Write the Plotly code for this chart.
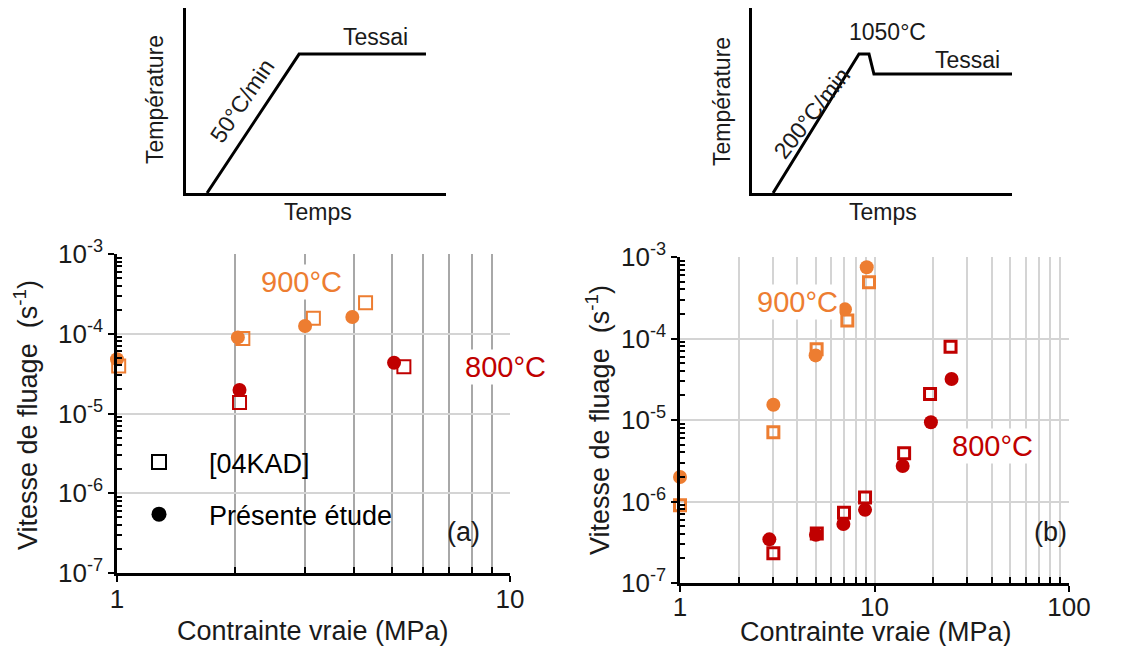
import plotly.graph_objects as go

ORANGE = "#ED7D31"
RED = "#C00000"
FONT = "Liberation Sans, Arial, sans-serif"
TXT = "#1a1a1a"

# ---------------- data (a) ----------------
a_900_kad_x = [1.01, 2.09, 3.16, 4.29]
a_900_kad_y = [3.95e-5, 8.7e-5, 1.56e-4, 2.45e-4]
a_900_etude_x = [1.0, 2.03, 3.01, 3.97]
a_900_etude_y = [4.8e-5, 9.0e-5, 1.25e-4, 1.62e-4]
a_800_kad_x = [2.05, 5.37]
a_800_kad_y = [1.37e-5, 3.86e-5]
a_800_etude_x = [2.05, 5.07]
a_800_etude_y = [1.97e-5, 4.33e-5]

# ---------------- data (b) ----------------
b_900_kad_x = [1.0, 3.02, 5.04, 7.25, 9.37]
b_900_kad_y = [9.0e-7, 7.06e-6, 7.36e-5, 1.66e-4, 4.89e-4]
b_900_etude_x = [1.0, 3.02, 4.98, 7.05, 9.12]
b_900_etude_y = [2.0e-6, 1.54e-5, 6.2e-5, 2.28e-4, 7.5e-4]
b_800_kad_x = [3.02, 5.05, 6.97, 8.94, 14.2, 19.3, 24.6]
b_800_kad_y = [2.31e-7, 4.05e-7, 7.3e-7, 1.12e-6, 3.9e-6, 2.08e-5, 7.9e-5]
b_800_etude_x = [2.88, 5.0, 6.92, 8.94, 13.96, 19.5, 24.9]
b_800_etude_y = [3.43e-7, 3.9e-7, 5.3e-7, 7.9e-7, 2.73e-6, 9.4e-6, 3.18e-5]

# ---------------- tick labels ----------------
y_tickvals = [1e-7, 1e-6, 1e-5, 1e-4, 1e-3]
y_ticktext = ["10<sup>-7</sup>", "10<sup>-6</sup>", "10<sup>-5</sup>", "10<sup>-4</sup>", "10<sup>-3</sup>"]
y_minor = [k * 10.0 ** e for e in range(-7, -3) for k in range(2, 10)]
a_x_tickvals = [1, 10]
a_x_ticktext = ["1", "10"]
a_x_minor = [2, 3, 4, 5, 6, 7, 8, 9]
b_x_tickvals = [1, 10, 100]
b_x_ticktext = ["1", "10", "100"]
b_x_minor = [k * 10 ** e for e in range(0, 2) for k in range(2, 10)]

# ---------------- schematic profiles (normalized time / temperature) ----------------
sch_a_time = [0.081, 0.435, 0.923]
sch_a_temp = [0.0, 0.751, 0.751]
sch_b_time = [0.081, 0.4115, 0.450, 0.469, 1.0]
sch_b_temp = [0.0, 0.751, 0.751, 0.643, 0.643]

W, H = 1137, 646


def px(x):
    return x / W


def py(y):
    return 1 - y / H


fig = go.Figure()


def add_series(xs, ys, color, symbol, xa, ya, size, lw):
    if symbol == "circle":
        marker = dict(symbol="circle", size=size, color=color, line=dict(width=0))
    else:
        marker = dict(symbol="square-open", size=size, color=color, line=dict(width=lw, color=color))
    fig.add_trace(go.Scatter(x=xs, y=ys, mode="markers", marker=marker,
                             xaxis=xa, yaxis=ya, showlegend=False, cliponaxis=False))


# (a)
add_series(a_900_kad_x, a_900_kad_y, ORANGE, "square", "x", "y", 13, 2)
add_series(a_800_kad_x, a_800_kad_y, RED, "square", "x", "y", 13, 2)
add_series(a_900_etude_x, a_900_etude_y, ORANGE, "circle", "x", "y", 14, 0)
add_series(a_800_etude_x, a_800_etude_y, RED, "circle", "x", "y", 14, 0)
# (b)
add_series(b_900_kad_x, b_900_kad_y, ORANGE, "square", "x2", "y2", 11, 3)
add_series(b_800_kad_x, b_800_kad_y, RED, "square", "x2", "y2", 11, 3)
add_series(b_900_etude_x, b_900_etude_y, ORANGE, "circle", "x2", "y2", 14, 0)
add_series(b_800_etude_x, b_800_etude_y, RED, "circle", "x2", "y2", 14, 0)

# legend entries
fig.add_trace(go.Scatter(x=[None], y=[None], mode="markers", name="[04KAD]",
                         marker=dict(symbol="square-open", size=14, color="black",
                                     line=dict(width=2, color="black")),
                         legendgroup="g1", xaxis="x", yaxis="y"))
fig.add_trace(go.Scatter(x=[None], y=[None], mode="markers", name="Présente étude",
                         marker=dict(symbol="circle", size=15, color="black"),
                         legendgroup="g2", xaxis="x", yaxis="y"))

# schematics
fig.add_trace(go.Scatter(x=sch_a_time, y=sch_a_temp, mode="lines",
                         line=dict(color="black", width=3), xaxis="x3", yaxis="y3",
                         showlegend=False, cliponaxis=False))
fig.add_trace(go.Scatter(x=sch_b_time, y=sch_b_temp, mode="lines",
                         line=dict(color="black", width=3), xaxis="x4", yaxis="y4",
                         showlegend=False, cliponaxis=False))

GRID_LIGHT = "#d4d4d4"
GRID_DARK = "#a8a8a8"

tickfont = dict(family=FONT, size=26, color=TXT)


def yaxis_common(domain, anchor):
    return dict(type="log", range=[-7, -3], domain=domain, anchor=anchor, automargin=False,
                tickmode="array", tickvals=y_tickvals, ticktext=y_ticktext,
                ticks="outside", ticklen=6, tickwidth=2, tickcolor="black",
                showline=True, linecolor="black", linewidth=2.5,
                showgrid=True, gridcolor=GRID_LIGHT, gridwidth=1.5,
                tickfont=tickfont, ticklabelstandoff=0,
                minor=dict(tickmode="array", tickvals=y_minor, ticks="inside",
                           ticklen=5, tickwidth=1.5, tickcolor="black", showgrid=False),
                zeroline=False)


def sch_axis(domain, anchor):
    return dict(range=[0, 1], domain=domain, anchor=anchor, automargin=False,
                showline=True, linecolor="black", linewidth=3,
                showgrid=False, zeroline=False, showticklabels=False, ticks="")


fig.update_layout(
    width=W, height=H, margin=dict(l=0, r=0, t=0, b=0, autoexpand=False),
    paper_bgcolor="white", plot_bgcolor="white",
    font=dict(family=FONT, color=TXT),
    xaxis=dict(type="log", range=[0, 1], domain=[px(117), px(510)], anchor="y", automargin=False,
               tickmode="array", tickvals=a_x_tickvals, ticktext=a_x_ticktext,
               ticks="outside", ticklen=6, tickwidth=2, tickcolor="black",
               showline=True, linecolor="black", linewidth=2.5,
               showgrid=True, gridcolor=GRID_LIGHT, gridwidth=1.5,
               tickfont=tickfont, ticklabelstandoff=-5,
               minor=dict(tickmode="array", tickvals=a_x_minor, ticks="inside",
                          ticklen=6, tickwidth=2, tickcolor="black",
                          showgrid=True, gridcolor=GRID_DARK, gridwidth=2),
               zeroline=False),
    yaxis=yaxis_common([py(573), py(254)], "x"),
    xaxis2=dict(type="log", range=[0, 2], domain=[px(680), px(1069)], anchor="y2", automargin=False,
                tickmode="array", tickvals=b_x_tickvals, ticktext=b_x_ticktext,
                ticks="outside", ticklen=6, tickwidth=2, tickcolor="black",
                showline=True, linecolor="black", linewidth=2.5,
                showgrid=True, gridcolor=GRID_LIGHT, gridwidth=1.5,
                tickfont=tickfont, ticklabelstandoff=-7,
                minor=dict(tickmode="array", tickvals=b_x_minor, ticks="inside",
                           ticklen=6, tickwidth=2, tickcolor="black",
                           showgrid=True, gridcolor=GRID_LIGHT, gridwidth=2),
                zeroline=False),
    yaxis2=yaxis_common([py(583), py(257)], "x2"),
    xaxis3=sch_axis([px(186), px(446)], "y3"),
    yaxis3=sch_axis([py(193), py(8)], "x3"),
    xaxis4=sch_axis([px(752), px(1012)], "y4"),
    yaxis4=sch_axis([py(193), py(8)], "x4"),
    showlegend=True,
    legend=dict(x=px(109), y=py(438), xanchor="left", yanchor="top",
                bgcolor="rgba(0,0,0,0)", font=dict(family=FONT, size=27, color="black"),
                tracegroupgap=14, itemwidth=90),
)

ann = []


def add_text(x, y, text, size=22, color=TXT, angle=0, bg=None):
    d = dict(x=px(x), y=py(y), xref="paper", yref="paper", text=text, showarrow=False,
             font=dict(family=FONT, size=size, color=color), textangle=angle,
             xanchor="center", yanchor="middle")
    if bg:
        d["bgcolor"] = bg
    ann.append(d)


# main plot labels
add_text(301, 282, "900°C", 29, ORANGE, bg="white")
add_text(505, 367, "800°C", 29, RED, bg="white")
add_text(463, 532, "(a)", 27, TXT)
add_text(797, 302, "900°C", 29, ORANGE, bg="white")
add_text(992, 446, "800°C", 29, RED, bg="white")
add_text(1050, 532, "(b)", 27, TXT)

# axis titles
add_text(26, 415, "Vitesse de fluage  (s<sup>-1</sup>)", 27, TXT, angle=-90)
add_text(313, 631, "Contrainte vraie (MPa)", 27, TXT)
add_text(598, 420, "Vitesse de fluage  (s<sup>-1</sup>)", 27, TXT, angle=-90)
add_text(876, 632, "Contrainte vraie (MPa)", 27, TXT)

# schematics text
add_text(155, 100, "Température", 23, TXT, angle=-90)
add_text(318, 212, "Temps", 23, TXT)
add_text(375, 37, "Tessai", 23, TXT)
add_text(242, 101, "50°C/min", 23, TXT, angle=-56)
add_text(722, 102, "Température", 23, TXT, angle=-90)
add_text(883, 212, "Temps", 23, TXT)
add_text(967, 60, "Tessai", 23, TXT)
add_text(887, 32, "1050°C", 23, TXT)
add_text(812, 113, "200°C/min", 23, TXT, angle=-52)

fig.update_layout(annotations=ann)

fig.write_html("out.html", config={"displayModeBar": False},
               post_script="document.body.style.margin='0';document.body.style.overflow='hidden';")
